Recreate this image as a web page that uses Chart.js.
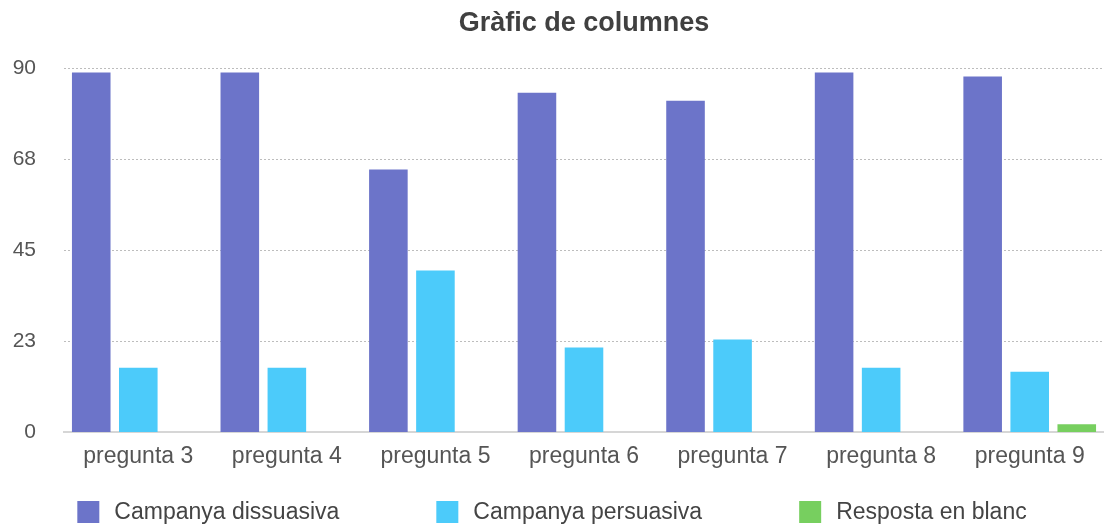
<!DOCTYPE html>
<html lang="ca">
<head>
  <meta charset="UTF-8" />
  <meta name="viewport" content="width=device-width, initial-scale=1" />
  <title>Gràfic de columnes</title>
  <script src="https://cdn.jsdelivr.net/npm/chart.js"></script>
  <style>
    body { margin: 0; background: #fff; }
    .chart-output { width: 1104px; height: 527px; }
  </style>
</head>
<body>

  <div class="chart-output">
    <canvas id="columnesChart"></canvas>
  </div>

  <script>
    // Respostes per pregunta
    const preguntes = ['pregunta 3', 'pregunta 4', 'pregunta 5', 'pregunta 6', 'pregunta 7', 'pregunta 8', 'pregunta 9'];
    const dissuasiva = [89, 89, 65, 84, 82, 89, 88];
    const persuasiva = [16, 16, 40, 21, 23, 16, 15];
    const enBlanc = [0, 0, 0, 0, 0, 0, 2];

    // Eix Y: quatre trams fins a 90, etiquetes arrodonides
    const yMax = 90;
    const yTickLabels = ['0', '23', '45', '68', '90'];

    const FONT = '"Liberation Sans", Arial, Helvetica, sans-serif';

    // Llegenda pròpia, repartida a la part de baix
    const bottomLegend = {
      id: 'bottomLegend',
      afterDraw(chart) {
        const ctx = chart.ctx;
        const box = 22, textGap = 15, itemGap = 97;
        const y = 512;
        ctx.save();
        ctx.font = '23px ' + FONT;
        const items = chart.data.datasets.map(ds => ({
          text: ds.label,
          color: ds.backgroundColor,
          w: box + textGap + ctx.measureText(ds.label).width
        }));
        const total = items.reduce((s, it) => s + it.w, 0) + itemGap * (items.length - 1);
        let x = (chart.width - total) / 2;
        items.forEach(it => {
          ctx.fillStyle = it.color;
          ctx.fillRect(x, y - box / 2, box, box);
          ctx.fillStyle = '#444';
          ctx.textBaseline = 'middle';
          ctx.textAlign = 'left';
          ctx.fillText(it.text, x + box + textGap, y + 1);
          x += it.w + itemGap;
        });
        ctx.restore();
      }
    };

    const ctx = document.getElementById('columnesChart').getContext('2d');

    new Chart(ctx, {
      type: 'bar',
      data: {
        labels: preguntes,
        datasets: [
          { label: 'Campanya dissuasiva', data: dissuasiva, backgroundColor: '#6c74c9' },
          { label: 'Campanya persuasiva', data: persuasiva, backgroundColor: '#4ccbfa' },
          { label: 'Resposta en blanc', data: enBlanc, backgroundColor: '#77cf5f' }
        ]
      },
      options: {
        responsive: true,
        maintainAspectRatio: false,
        animation: false,
        events: [],
        layout: {
          padding: { left: 12, right: 0, top: 0, bottom: 47 }
        },
        datasets: {
          bar: { categoryPercentage: 0.95, barPercentage: 0.82 }
        },
        plugins: {
          legend: { display: false },
          tooltip: { enabled: false },
          title: {
            display: true,
            text: 'Gràfic de columnes',
            fullSize: false,
            color: '#404040',
            font: { family: FONT, size: 27, weight: 'bold' },
            padding: { top: 7, bottom: 29 }
          }
        },
        scales: {
          x: {
            grid: { display: false, drawTicks: false },
            border: { display: true, color: '#d6d6d6', width: 2 },
            ticks: {
              color: '#555',
              padding: 10,
              font: { family: FONT, size: 23 }
            }
          },
          y: {
            min: 0,
            max: yMax,
            afterBuildTicks(axis) {
              axis.ticks = yTickLabels.map((_, i) => ({ value: yMax * i / (yTickLabels.length - 1) }));
            },
            afterFit(axis) {
              axis.width = 52;
            },
            // línies de la graella puntejades
            border: { display: false, dash: [2, 2] },
            grid: {
              drawTicks: false,
              color: c => (c.tick && c.tick.value === 0 ? 'rgba(0,0,0,0)' : '#bdbdbd'),
              lineWidth: 1
            },
            ticks: {
              color: '#555',
              padding: 28,
              font: { family: FONT, size: 21 },
              callback: (value, i) => yTickLabels[i]
            }
          }
        }
      },
      plugins: [bottomLegend]
    });
  </script>

</body>
</html>
